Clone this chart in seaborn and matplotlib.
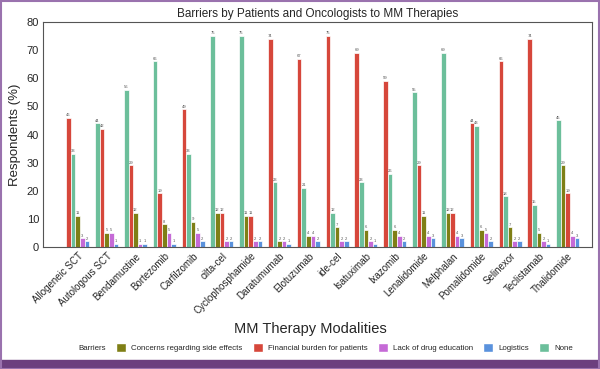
import numpy as np
import pandas as pd
import matplotlib
matplotlib.use('Agg')
import matplotlib.pyplot as plt
import seaborn as sns
from matplotlib.patches import Patch, Rectangle

therapies = ['Allogeneic SCT', 'Autologous SCT', 'Bendamustine', 'Bortezomib', 'Carfilzomib',
             'cilta-cel', 'Cyclophosphamide', 'Daratumumab', 'Elotuzumab', 'ide-cel',
             'Isatuximab', 'Ixazomib', 'Lenalidomide', 'Melphalan', 'Pomalidomide',
             'Selinexor', 'Teclistamab', 'Thalidomide']
barriers = ['Concerns regarding side effects', 'Financial burden for patients',
            'Lack of drug education', 'Logistics', 'None']

side_effects = [11, 5, 12, 8, 9, 12, 11, 2, 4, 7, 6, 6, 11, 12, 6, 7, 5, 29]
financial = [46, 42, 29, 19, 49, 12, 11, 74, 67, 75, 69, 59, 29, 12, 44, 66, 74, 19]
education = [3, 5, 1, 5, 5, 2, 2, 2, 4, 2, 2, 4, 4, 4, 5, 2, 2, 4]
logistics = [2, 1, 1, 1, 2, 2, 2, 1, 2, 2, 1, 2, 3, 3, 2, 2, 1, 3]
none_ = [33, 44, 56, 66, 33, 75, 75, 23, 21, 12, 23, 26, 55, 69, 43, 18, 15, 45]

colors = {'Concerns regarding side effects': '#7f7f16',
          'Financial burden for patients': '#d6473b',
          'Lack of drug education': '#c56ad6',
          'Logistics': '#5a92dd',
          'None': '#6cbf9b'}

rows = []
for i, t in enumerate(therapies):
    vals = [side_effects[i], financial[i], education[i], logistics[i], none_[i]]
    order = sorted(range(5), key=lambda k: -vals[k])  # stable, largest first
    for r, k in enumerate(order):
        rows.append({'therapy': t, 'rank': r, 'barrier': barriers[k], 'value': vals[k]})
df = pd.DataFrame(rows)

sns.set_style('white')
plt.rcParams['font.family'] = ['Liberation Sans', 'DejaVu Sans']

fig = plt.figure(figsize=(6, 3.69), dpi=100)
ax = fig.add_axes([0.072, 0.331, 0.915, 0.609])

sns.barplot(data=df, x='therapy', y='value', hue='rank', order=therapies,
            width=0.8, palette=['#888888'] * 5, legend=False, ax=ax,
            edgecolor='white', linewidth=0.5)

for r, cont in enumerate(ax.containers):
    sub = df[df['rank'] == r].set_index('therapy').loc[therapies]
    for bar, b in zip(cont, sub['barrier']):
        bar.set_facecolor(colors[b])
    ax.bar_label(cont, labels=[str(v) for v in sub['value']], fontsize=3, color='#555555', padding=0.5)

ax.set_xlim(-1.2, 17.85)
ax.set_ylim(0, 80)
ax.set_yticks(range(0, 81, 10))
ax.tick_params(axis='y', labelsize=8, length=0, pad=3)
ax.tick_params(axis='x', labelsize=7, length=2, pad=1)
plt.setp(ax.get_xticklabels(), rotation=45, ha='right', rotation_mode='anchor')
ax.set_xlabel('MM Therapy Modalities', fontsize=10.5)
ax.xaxis.set_label_coords(0.486, -0.335)
ax.set_ylabel('Respondents (%)', fontsize=9.5)
ax.set_title('Barriers by Patients and Oncologists to MM Therapies', fontsize=8.5, pad=4)
for s in ax.spines.values():
    s.set_color('#555555')
    s.set_linewidth(0.8)

handles = [Patch(visible=False)] + [Patch(facecolor=colors[b], edgecolor='white') for b in barriers]
labels = ['Barriers'] + barriers
fig.legend(handles, labels, loc='center', bbox_to_anchor=(0.53, 0.057), ncol=6, frameon=False,
           fontsize=5.7, handlelength=1.3, handleheight=1.3, columnspacing=1.3, handletextpad=0.6)

fig.patches.append(Rectangle((0, 0), 1, 9 / 369, transform=fig.transFigure, color='#6c3f7e', zorder=0))
fig.patches.append(Rectangle((0.001, 0), 0.998, 0.998, transform=fig.transFigure, fill=False,
                             edgecolor='#9a72ae', linewidth=1.5, zorder=0))

fig.savefig('out.png', dpi=100)
